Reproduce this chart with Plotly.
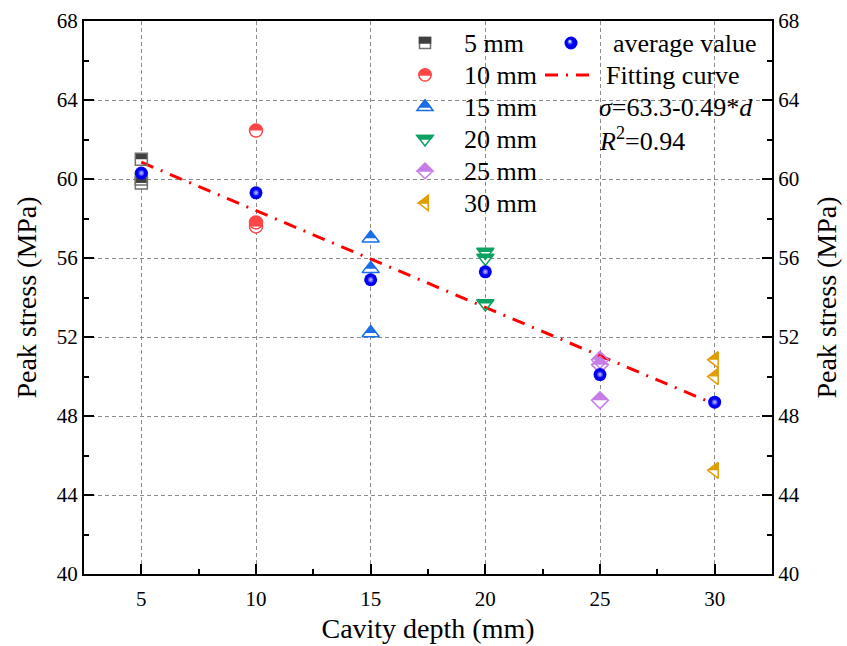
import math
import plotly.graph_objects as go

# ---- data -------------------------------------------------------------
depths = [5, 10, 15, 20, 25, 30]                      # cavity depth (mm)
series_names = ["5 mm", "10 mm", "15 mm", "20 mm", "25 mm", "30 mm"]
stress_5mm = [61.0, 60.0, 59.8]
stress_10mm = [62.45, 57.8, 57.6]
stress_15mm = [57.0, 55.45, 52.2]
stress_20mm = [56.3, 56.0, 53.7]
stress_25mm = [50.85, 50.6, 48.8]
stress_30mm = [50.85, 50.0, 45.25]
average_stress = [60.3, 59.3, 54.9, 55.3, 50.1, 48.7]
fit_intercept = 63.3
fit_slope = -0.49
fit_depths = [5, 30]
x_ticks = [5, 10, 15, 20, 25, 30]
y_ticks = [40, 44, 48, 52, 56, 60, 64, 68]

stress_groups = [stress_5mm, stress_10mm, stress_15mm,
                 stress_20mm, stress_25mm, stress_30mm]

# ---- styling ----------------------------------------------------------
FONT = "Liberation Serif"
W, H = 847, 646
PLOT_L, PLOT_R, PLOT_T, PLOT_B = 84, 772, 21, 574

marker_styles = [
    dict(symbol="square", size=12, edge="#707070", fill="#404040"),
    dict(symbol="circle", size=13, edge="#ff4545", fill="#ff4545"),
    dict(symbol="triangle-up", size=15, edge="#1a6ee6", fill="#1a6ee6"),
    dict(symbol="triangle-down", size=15, edge="#0ea262", fill="#0ea262"),
    dict(symbol="diamond", size=13, edge="#c67de6", fill="#c67de6"),
    dict(symbol="triangle-left", size=14, edge="#e19c00", fill="#e19c00"),
]
BALL_COLOR = "#0000f0"
FIT_COLOR = "#ff0000"
FIT_DASH = "13px,8px,2px,8px"


def symbol_outline(symbol, size):
    """Full outline and upper half of a marker, in pixels (y pointing up)."""
    r = size / 2.0
    rt = r * 2 / math.sqrt(3)
    if symbol == "square":
        full = [(-r, -r), (r, -r), (r, r), (-r, r)]
        top = [(-r, 0), (r, 0), (r, r), (-r, r)]
    elif symbol == "circle":
        n = 36
        full = [(r * math.cos(2 * math.pi * k / n), r * math.sin(2 * math.pi * k / n))
                for k in range(n)]
        top = [(r * math.cos(math.pi * k / (n // 2)), r * math.sin(math.pi * k / (n // 2)))
               for k in range(n // 2 + 1)]
    elif symbol == "triangle-up":
        full = [(-rt, -r / 2), (rt, -r / 2), (0, r)]
        top = [(-2 * rt / 3, 0), (2 * rt / 3, 0), (0, r)]
    elif symbol == "triangle-down":
        full = [(-rt, r / 2), (rt, r / 2), (0, -r)]
        top = [(-rt, r / 2), (rt, r / 2), (2 * rt / 3, 0), (-2 * rt / 3, 0)]
    elif symbol == "diamond":
        rd = 1.3 * r
        full = [(-rd, 0), (0, rd), (rd, 0), (0, -rd)]
        top = [(-rd, 0), (0, rd), (rd, 0)]
    else:  # triangle-left
        full = [(r / 2, -rt), (r / 2, rt), (-r, 0)]
        top = [(-r, 0), (r / 2, 0), (r / 2, rt)]
    return full, top


def to_path(points):
    return "M" + " L".join(f"{x:.2f},{y:.2f}" for x, y in points) + " Z"


def paper_x(px):
    return (px - PLOT_L) / (PLOT_R - PLOT_L)


def paper_y(py):
    return (PLOT_B - py) / (PLOT_B - PLOT_T)


fig = go.Figure()
shapes = []

# fitted line  sigma = 63.3 - 0.49 d
fig.add_trace(go.Scatter(
    x=fit_depths, y=[fit_intercept + fit_slope * d for d in fit_depths],
    mode="lines", line=dict(color=FIT_COLOR, width=3, dash=FIT_DASH),
    hoverinfo="skip", showlegend=False))

# half-filled measurement markers: fill via pixel-sized shapes, outline via trace
for depth, values, name, st in zip(depths, stress_groups, series_names, marker_styles):
    full, top = symbol_outline(st["symbol"], st["size"])
    for v in values:
        common = dict(type="path", xref="x", yref="y", xsizemode="pixel",
                      ysizemode="pixel", xanchor=depth, yanchor=v, layer="between")
        shapes.append(dict(path=to_path(full), fillcolor="white",
                           line=dict(width=0), **common))
        shapes.append(dict(path=to_path(top), fillcolor=st["fill"],
                           line=dict(width=0), **common))
    fig.add_trace(go.Scatter(
        x=[depth] * len(values), y=values, mode="markers", name=name,
        marker=dict(symbol=st["symbol"] + "-open", size=st["size"],
                    color=st["edge"], line=dict(width=1.5, color=st["edge"])),
        showlegend=False))

# average values drawn as shaded balls
fig.add_trace(go.Scatter(
    x=depths, y=average_stress, mode="markers", name="average value",
    marker=dict(symbol="circle", size=13, color=BALL_COLOR, line=dict(width=0)),
    showlegend=False))
fig.add_trace(go.Scatter(
    x=depths, y=average_stress, mode="markers", hoverinfo="skip",
    marker=dict(symbol="circle", size=6, color="#2a2aff",
                gradient=dict(type="radial", color="#c8cdff"), line=dict(width=0)),
    showlegend=False))

# right-hand axis carries the same stress scale
fig.add_trace(go.Scatter(x=[None], y=[None], yaxis="y2", mode="markers",
                         hoverinfo="skip", showlegend=False))

# ---- legend block ------------------------------------------------------
shapes.append(dict(type="rect", xref="paper", yref="paper", layer="between",
                   x0=paper_x(405), x1=paper_x(541), y0=paper_y(216), y1=1,
                   fillcolor="white", line=dict(width=0)))
shapes.append(dict(type="rect", xref="paper", yref="paper", layer="between",
                   x0=paper_x(541), x1=paper_x(770), y0=paper_y(160), y1=1,
                   fillcolor="white", line=dict(width=0)))

annotations = []
LEG_ROWS = [43, 75, 107, 139, 171, 203]
LEG_FONT = dict(family=FONT, size=26, color="black")
for row, name, st in zip(LEG_ROWS, series_names, marker_styles):
    full, top = symbol_outline(st["symbol"], st["size"] - 1)
    common = dict(type="path", xref="paper", yref="paper", xsizemode="pixel",
                  ysizemode="pixel", xanchor=paper_x(425), yanchor=paper_y(row),
                  layer="above")
    shapes.append(dict(path=to_path(full), fillcolor="white",
                       line=dict(width=1.5, color=st["edge"]), **common))
    shapes.append(dict(path=to_path(top), fillcolor=st["fill"],
                       line=dict(width=1.5, color=st["fill"]), **common))
    annotations.append(dict(text=name, xref="paper", yref="paper",
                            x=paper_x(462), y=paper_y(row), xanchor="left",
                            yanchor="middle", showarrow=False, font=LEG_FONT))

# legend key: average value ball
ball = dict(type="circle", xref="paper", yref="paper", xsizemode="pixel",
            ysizemode="pixel", xanchor=paper_x(571), yanchor=paper_y(LEG_ROWS[0]),
            layer="above", line=dict(width=0))
shapes.append(dict(x0=-6.5, x1=6.5, y0=-6.5, y1=6.5, fillcolor=BALL_COLOR, **ball))
shapes.append(dict(x0=-3.5, x1=1.5, y0=-1.5, y1=3.5, fillcolor="#4a55ff", **ball))
shapes.append(dict(x0=-2.4, x1=0.2, y0=0.2, y1=2.8, fillcolor="#e6e9ff", **ball))
# legend key: fitting curve
shapes.append(dict(type="line", xref="paper", yref="paper", layer="above",
                   x0=paper_x(545), x1=paper_x(592),
                   y0=paper_y(LEG_ROWS[1]), y1=paper_y(LEG_ROWS[1]),
                   line=dict(color=FIT_COLOR, width=3, dash=FIT_DASH)))

right_texts = [
    (611, LEG_ROWS[0], "average value"),
    (604, LEG_ROWS[1], "Fitting curve"),
    (597, LEG_ROWS[2], "<i>σ</i>=63.3-0.49*<i>d</i>"),
    (597, LEG_ROWS[3], "<i>R</i><sup>2</sup>=0.94"),
]
for px, py, txt in right_texts:
    annotations.append(dict(text=txt, xref="paper", yref="paper",
                            x=paper_x(px), y=paper_y(py), xanchor="left",
                            yanchor="middle", showarrow=False, font=LEG_FONT))

# ---- axes --------------------------------------------------------------
tick_common = dict(ticks="inside", ticklen=10, tickwidth=2, tickcolor="black",
                   showline=True, linewidth=2, linecolor="black", zeroline=False,
                   tickfont=dict(family=FONT, size=21, color="black"))
title_font = dict(family=FONT, size=28, color="black")
minor_y = dict(ticks="inside", ticklen=5, tickwidth=2, tickcolor="black",
               tick0=40, dtick=2, showgrid=False)

fig.update_layout(
    width=W, height=H,
    margin=dict(l=PLOT_L, r=W - PLOT_R, t=PLOT_T, b=H - PLOT_B, autoexpand=False),
    paper_bgcolor="white", plot_bgcolor="white",
    font=dict(family=FONT, size=21, color="black"),
    showlegend=False,
    xaxis=dict(range=[2.5, 32.5], tickmode="array", tickvals=x_ticks,
               mirror=True, showgrid=True, gridcolor="#8c8c8c", gridwidth=1,
               griddash="4px,3px", ticklabelstandoff=5,
               minor=dict(ticks="inside", ticklen=5, tickwidth=2, tickcolor="black",
                          tick0=0, dtick=2.5, showgrid=False),
               title=dict(text="Cavity depth (mm)", font=title_font, standoff=8),
               **tick_common),
    yaxis=dict(range=[40, 68], tickmode="array", tickvals=y_ticks,
               showgrid=True, gridcolor="#8c8c8c", gridwidth=1, griddash="4px,3px",
               minor=minor_y,
               title=dict(text="Peak stress (MPa)", font=title_font, standoff=12),
               **tick_common),
    yaxis2=dict(range=[40, 68], tickmode="array", tickvals=y_ticks,
                overlaying="y", side="right", anchor="x", showgrid=False,
                minor=minor_y,
                title=dict(text="Peak stress (MPa)", font=title_font, standoff=18),
                **tick_common),
    shapes=shapes,
    annotations=annotations,
)

fig.write_html("out.html")
